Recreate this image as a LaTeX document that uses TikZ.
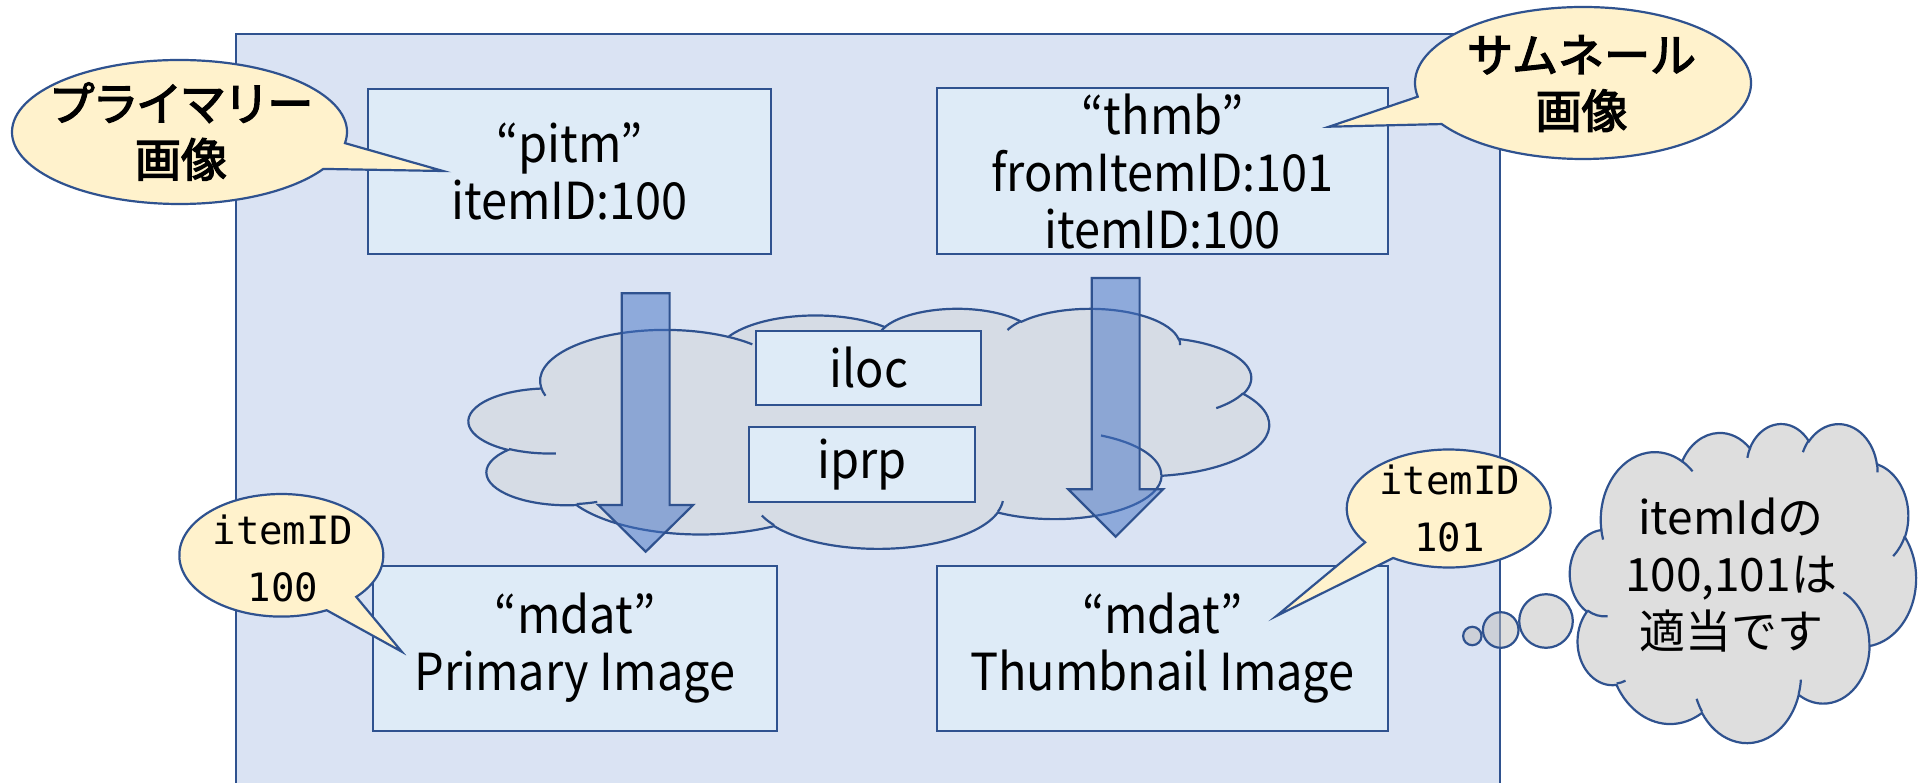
\documentclass[tikz,border=0pt]{standalone}
\usepackage{fontspec}
\setmainfont{Noto Sans CJK JP}
\newfontfamily\boxfont{Noto Sans CJK JP}[FakeStretch=0.92]
\newfontfamily\notefont{Noto Sans CJK JP}[BoldFont={Noto Sans CJK JP}, BoldFeatures={FakeBold=3}]
\newfontfamily\monofont{DejaVu Sans Mono}

\definecolor{framefill}{HTML}{DAE3F3}
\definecolor{boxfill}{HTML}{DEEBF7}
\definecolor{edgeblue}{HTML}{2F528F}
\definecolor{arrowfill}{HTML}{4472C4}
\definecolor{cloudfill}{HTML}{D6DCE5}
\definecolor{thinkfill}{HTML}{BFBFBF}
\definecolor{notefill}{HTML}{FFF2CC}

\makeatletter
\newcommand\cl@W{800}
\newcommand\cl@H{240}
\newcommand\cl@path{}
% one elliptical arc of the cloud outline; radii in shape units (0..432),
% angles as seen on the page with y pointing down
\newcommand\cloudarc[4]{%
  \pgfmathsetmacro\cl@a{atan2(#1*sin(#3),#2*cos(#3))}%
  \pgfmathsetmacro\cl@b{atan2(#1*sin(#3+#4),#2*cos(#3+#4))}%
  \pgfmathsetmacro\cl@d{\cl@b-\cl@a}%
  \pgfmathsetmacro\cl@d{\cl@d+360*(\cl@d<0)}%
  \pgfmathsetmacro\cl@s{0-\cl@a}%
  \pgfmathsetmacro\cl@e{0-\cl@d}%
  \pgfmathsetmacro\cl@rx{#1/432*\cl@W}%
  \pgfmathsetmacro\cl@ry{#2/432*\cl@H}%
  \xdef\cl@path{\cl@path arc[start angle=\cl@s,delta angle=\cl@e,x radius=\cl@rx pt,y radius=\cl@ry pt]}}
\newcommand\cloudmove[2]{%
  \pgfmathsetmacro\cl@x{#1/432*\cl@W}%
  \pgfmathsetmacro\cl@y{#2/432*\cl@H}%
  \xdef\cl@path{\cl@path (\cl@x,\cl@y)}}
% cloud of size #1 x #2 from the current origin (top left corner);
% #3 style of the filled outline, #4 style of the inner strokes
\newcommand\cloudshape[4]{%
  \def\cl@W{#1}\def\cl@H{#2}%
  \gdef\cl@path{}%
  \cloudmove{39.00}{143.70}%
  \cloudarc{67.53}{91.90}{-190.4875}{123.7805}%
  \cloudarc{53.33}{72.67}{-144.1024}{89.9452}%
  \cloudarc{43.65}{59.45}{-145.8079}{99.7230}%
  \cloudarc{48.57}{65.95}{-130.9861}{117.2417}%
  \cloudarc{53.33}{72.73}{-78.7089}{109.0269}%
  \cloudarc{67.75}{92.20}{-46.2673}{130.2690}%
  \cloudarc{57.85}{78.67}{0.6250}{114.0333}%
  \cloudarc{67.52}{92.15}{22.4516}{115.1726}%
  \cloudarc{77.20}{105.43}{66.2426}{75.7110}%
  \cloudarc{43.60}{59.18}{-274.9421}{146.7356}%
  \cloudarc{43.45}{59.45}{-246.8285}{152.5189}%
  \edef\cl@do{\noexpand\path[#3] \cl@path -- cycle;}\cl@do
  \gdef\cl@path{}%
  \cloudmove{46.93}{261.77}\cloudarc{43.45}{59.45}{86.7420}{26.4295}%
  \cloudmove{69.28}{348.99}\cloudarc{43.60}{59.18}{73.6105}{11.4475}%
  \cloudmove{164.78}{390.90}\cloudarc{67.52}{92.15}{137.6242}{14.0811}%
  \cloudmove{288.27}{347.51}\cloudarc{67.52}{92.15}{6.4533}{15.9984}%
  \cloudmove{341.29}{229.54}\cloudarc{57.85}{78.67}{-70.2924}{70.9174}%
  \cloudmove{417.98}{153.54}\cloudarc{53.33}{72.73}{30.3180}{27.7515}%
  \cloudmove{383.24}{54.26}\cloudarc{48.57}{65.95}{-13.7443}{14.8589}%
  \cloudmove{290.78}{39.52}\cloudarc{48.57}{65.95}{-149.1815}{18.1954}%
  \cloudmove{221.41}{47.20}\cloudarc{43.65}{59.45}{-163.4943}{17.6864}%
  \cloudmove{140.00}{51.92}\cloudarc{67.53}{91.90}{-66.7070}{12.3194}%
  \cloudmove{41.27}{157.89}\cloudarc{67.53}{91.90}{157.6544}{11.8582}%
  \edef\cl@do{\noexpand\path[#4] \cl@path;}\cl@do}
\makeatother

% speech balloon: centre, x radius, y radius, start and end angle of the
% elliptical part, point of the wedge
\newcommand\balloon[6]{%
  \path[note] (#1) ++(#4:#2pt and #3pt)
    arc[start angle=#4,end angle=#5,x radius=#2pt,y radius=#3pt]
    -- (#6) -- cycle;}

% block arrow pointing down: centre x, top, head base, tip y
\newcommand\blockdown[4]{%
  \path[blockarrow] (#1-23.9,#2) -- (#1+23.9,#2) -- (#1+23.9,#3)
    -- (#1+47.4,#3) -- (#1,#4) -- (#1-47.4,#3) -- (#1-23.9,#3) -- cycle;}

\tikzset{
  edge/.style={draw=edgeblue, line width=2.2pt, line join=miter},
  databox/.style={edge, fill=boxfill, inner sep=0pt, outer sep=0pt,
    align=center, font=\boxfont\fontsize{51}{57}\selectfont},
  frame/.style={edge, fill=framefill},
  mainCloud/.style={edge, fill=cloudfill},
  cloudLine/.style={draw=edgeblue, line width=2.2pt},
  thinkCloud/.style={edge, fill=thinkfill, fill opacity=0.5},
  blockarrow/.style={edge, fill=arrowfill, fill opacity=0.5},
  note/.style={edge, fill=notefill},
  notetext/.style={align=center, inner sep=0pt, font=\notefont\bfseries\fontsize{46}{56}\selectfont},
  idtext/.style={align=center, inner sep=0pt, font=\monofont\fontsize{39}{57}\selectfont},
  thinktext/.style={align=center, inner sep=0pt, font=\fontsize{46}{57}\selectfont},
}

\begin{document}
\begin{tikzpicture}[x=1pt, y=-1pt]
\clip (0,0) rectangle (1921,783);
\fill[white] (0,0) rectangle (1921,783);

% file container
\path[frame] (236,34.3) rectangle (1500.2,800);

% shared item information
\begin{scope}[shift={(469,308)}]
  \cloudshape{800}{240}{mainCloud}{cloudLine}
\end{scope}
\node[databox, minimum width=225pt, minimum height=74.3pt] (iloc) at (868.8,367.8) {iloc};
\node[databox, minimum width=225.8pt, minimum height=74.4pt] (iprp) at (861.9,464.5) {iprp};

% item boxes
\node[databox, minimum width=403.7pt, minimum height=165pt] (pitm) at (569.5,171.2)
  {“pitm”\\itemID:100};
\node[databox, minimum width=451.5pt, minimum height=165.7pt] (thmb) at (1162.5,171.2)
  {“thmb”\\fromItemID:101\\itemID:100};
\node[databox, minimum width=403.8pt, minimum height=165.3pt] (mdatA) at (575,648.4)
  {“mdat”\\Primary Image};
\node[databox, minimum width=451.2pt, minimum height=165.3pt] (mdatB) at (1162.4,648.4)
  {“mdat”\\Thumbnail Image};

% references from the item boxes down to the data
\blockdown{645.7}{293.3}{505}{551.7}
\blockdown{1115.7}{278}{489.3}{536.7}

% balloons
\coordinate (tipA) at (443,171);
\coordinate (tipB) at (1329,126.7);
\coordinate (tipC) at (401.8,651.7);
\coordinate (tipD) at (1276.4,616);
\coordinate (balA) at (179.5,132);
\coordinate (balB) at (1583,83);
\coordinate (balC) at (281.3,555.3);
\coordinate (balD) at (1448.7,508.5);
\balloon{balA}{167.5}{72}{-8.9}{329.15}{tipA}
\balloon{balB}{168}{76}{-169.6}{-507.3}{tipB}
\balloon{balC}{102}{61.3}{-42.7}{296.4}{tipC}
\balloon{balD}{102}{59}{-145}{-483}{tipD}
\node[notetext] (primaryNote) at (181,131.5)
  {{\addfontfeature{LetterSpace=-5}プライマリー}\\画像};
\node[notetext] (thumbNote) at (1581.5,83.5) {サムネール\\画像};
\node[idtext] (idA) at (283,558.7) {itemID\\100};
\node[idtext] (idB) at (1449.7,508) {itemID\\101};

% thought bubble
\path[thinkCloud] (1472.3,636) circle[radius=9.2pt];
\path[thinkCloud] (1500.7,630) circle[radius=17.8pt];
\path[thinkCloud] (1546,621) circle[radius=26.8pt];
\begin{scope}[shift={(1570,423)}]
  \cloudshape{346}{319}{thinkCloud}{cloudLine}
\end{scope}
\node[thinktext] (remark) at (1731,575) {itemIdの\\100,101は\\適当です};
\end{tikzpicture}
\end{document}
